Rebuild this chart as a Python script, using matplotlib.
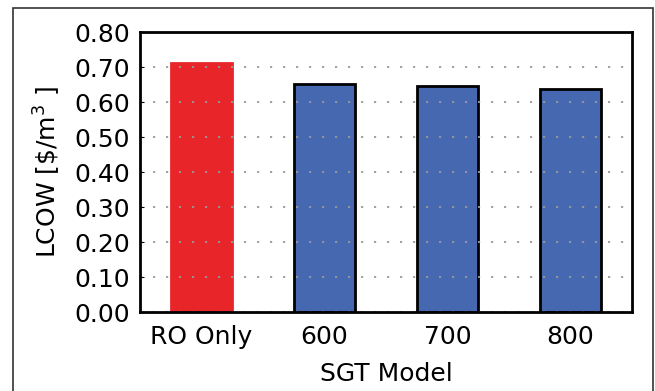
import matplotlib
matplotlib.use('Agg')
import matplotlib.pyplot as plt
from matplotlib.patches import Rectangle

models = ['RO Only', '600', '700', '800']
lcow = [0.712, 0.652, 0.647, 0.638]
bar_colors = ['#e8262a', '#4668b0', '#4668b0', '#4668b0']
edge_colors = ['#e8262a', 'black', 'black', 'black']
y_ticks = [0.0, 0.1, 0.2, 0.3, 0.4, 0.5, 0.6, 0.7, 0.8]

fig = plt.figure(figsize=(6.55, 3.91), dpi=100)
ax = fig.add_axes([0.2137, 0.202, 0.7513, 0.716])

x = list(range(len(models)))
ax.bar(x, lcow, width=0.5, color=bar_colors, edgecolor=edge_colors, linewidth=2, zorder=2)

ax.set_xlim(-0.5, 3.5)
ax.set_ylim(0, 0.8)
ax.set_yticks(y_ticks)
ax.set_yticklabels([f'{v:.2f}' for v in y_ticks])
ax.set_xticks(x)
ax.set_xticklabels(models)
ax.tick_params(axis='y', direction='in', length=3, labelsize=18, pad=7)
ax.tick_params(axis='x', length=0, labelsize=18, pad=9)
ax.yaxis.grid(True, linestyle=(0, (1.2, 6)), color='#999999', linewidth=1.3, zorder=3)
ax.set_axisbelow(False)
for s in ax.spines.values():
    s.set_linewidth(2)
    s.set_zorder(4)

ax.set_xlabel('SGT Model', fontsize=18, labelpad=10)
ax.set_ylabel(r'LCOW [\$/m$^3$ ]', fontsize=18, labelpad=8)

# frame around the figure
fig.patches.append(Rectangle((0.02, -0.1), 0.977, 1.08, transform=fig.transFigure,
                             fill=False, edgecolor='#333333', linewidth=1.2))

plt.savefig('out.png', dpi=100)
